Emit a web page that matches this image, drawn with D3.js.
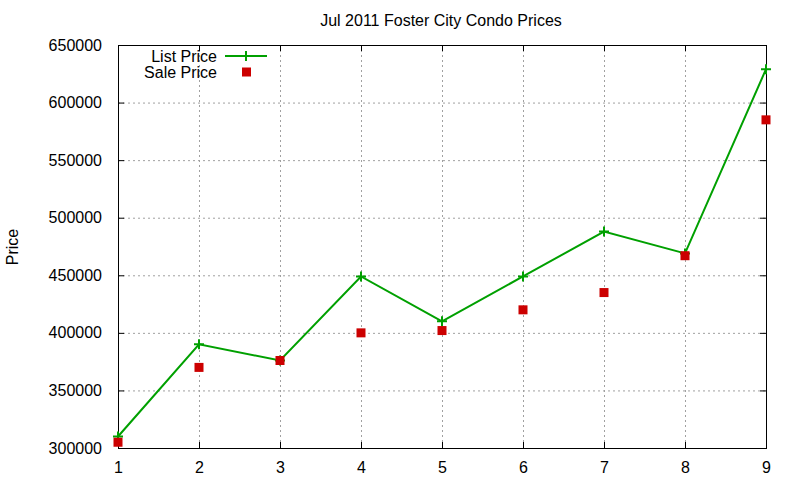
<!DOCTYPE html>
<html>
<head>
<meta charset="utf-8">
<script src="https://cdn.jsdelivr.net/npm/d3@7"></script>
<style>
body { margin: 0; background: #fff; }
text { font-family: "Liberation Sans", Arial, sans-serif; fill: #000; }
</style>
</head>
<body>
<div id="chart"></div>
<script>
var units = [1, 2, 3, 4, 5, 6, 7, 8, 9];
var listPrice = [310000, 390000, 376000, 449000, 410000, 449000, 488000, 469000, 629000];
var salePrice = [305000, 370000, 376000, 400000, 402000, 420000, 435000, 467000, 585000];
var yTicks = [300000, 350000, 400000, 450000, 500000, 550000, 600000, 650000];

var W = 800, H = 480;
var plotL = 118, plotR = 766, plotT = 45, plotB = 448;

var svg = d3.select("#chart").append("svg")
    .attr("width", W)
    .attr("height", H);

var x = d3.scaleLinear().domain([1, 9]).range([plotL, plotR]);
var y = d3.scaleLinear().domain([300000, 650000]).range([plotB, plotT]);

// grid
svg.append("g").selectAll("line")
    .data(units.slice(1, -1))
    .enter().append("line")
    .attr("x1", d => x(d) + 0.5).attr("x2", d => x(d) + 0.5)
    .attr("y1", plotT).attr("y2", plotB)
    .attr("stroke", "#a0a0a0").attr("stroke-dasharray", "2,3");

svg.append("g").selectAll("line")
    .data(yTicks.slice(1, -1))
    .enter().append("line")
    .attr("x1", plotL).attr("x2", plotR)
    .attr("y1", d => y(d) + 0.5).attr("y2", d => y(d) + 0.5)
    .attr("stroke", "#a0a0a0").attr("stroke-dasharray", "2,3");

// axes (gnuplot style: inward ticks, mirrored)
var axB = svg.append("g").attr("transform", "translate(0," + plotB + ")")
    .call(d3.axisBottom(x).tickValues(units).tickSize(-6).tickPadding(14).tickFormat(d3.format("d")));
var axT = svg.append("g").attr("transform", "translate(0," + plotT + ")")
    .call(d3.axisTop(x).tickValues(units).tickSize(-6).tickFormat(""));
var axL = svg.append("g").attr("transform", "translate(" + plotL + ",0)")
    .call(d3.axisLeft(y).tickValues(yTicks).tickSize(-6).tickPadding(16).tickFormat(d3.format("d")));
var axR = svg.append("g").attr("transform", "translate(" + plotR + ",0)")
    .call(d3.axisRight(y).tickValues(yTicks).tickSize(-6).tickFormat(""));

[axB, axT, axL, axR].forEach(function (a) {
    a.select(".domain").remove();
    a.selectAll("line").attr("stroke", "#000");
    a.selectAll("text").style("font-size", "16px").attr("fill", "#000");
});

svg.append("rect")
    .attr("x", plotL + 0.5).attr("y", plotT + 0.5)
    .attr("width", plotR - plotL).attr("height", plotB - plotT)
    .attr("fill", "none").attr("stroke", "#000");

// title and label
svg.append("text")
    .attr("x", 441).attr("y", 26)
    .attr("text-anchor", "middle")
    .style("font-size", "16px")
    .text("Jul 2011 Foster City Condo Prices");

svg.append("text")
    .attr("transform", "translate(18,247) rotate(-90)")
    .attr("text-anchor", "middle")
    .style("font-size", "16px")
    .text("Price");

// list price line
var line = d3.line()
    .x((d, i) => x(units[i]))
    .y(d => y(d));

svg.append("path")
    .datum(listPrice)
    .attr("d", line)
    .attr("fill", "none")
    .attr("stroke", "#00a000")
    .attr("stroke-width", 2);

function plusPath(cx, cy, s) {
    return "M" + (cx - s) + "," + cy + "H" + (cx + s) + "M" + cx + "," + (cy - s) + "V" + (cy + s);
}

svg.append("g").selectAll("path")
    .data(listPrice)
    .enter().append("path")
    .attr("d", (d, i) => plusPath(x(units[i]), y(d), 5))
    .attr("stroke", "#00a000")
    .attr("stroke-width", 2);

// sale price points
svg.append("g").selectAll("rect")
    .data(salePrice)
    .enter().append("rect")
    .attr("x", (d, i) => x(units[i]) - 4.5)
    .attr("y", d => y(d) - 4.5)
    .attr("width", 9).attr("height", 9)
    .attr("fill", "#cc0000");

// legend
var lg = svg.append("g");
lg.append("text").attr("x", 217).attr("y", 62).attr("text-anchor", "end")
    .style("font-size", "16px").text("List Price");
lg.append("line").attr("x1", 225).attr("x2", 267).attr("y1", 56).attr("y2", 56)
    .attr("stroke", "#00a000").attr("stroke-width", 2);
lg.append("path").attr("d", plusPath(246, 56, 5))
    .attr("stroke", "#00a000").attr("stroke-width", 2);
lg.append("text").attr("x", 217).attr("y", 78).attr("text-anchor", "end")
    .style("font-size", "16px").text("Sale Price");
lg.append("rect").attr("x", 242).attr("y", 67.5).attr("width", 9).attr("height", 9)
    .attr("fill", "#cc0000");
</script>
</body>
</html>
